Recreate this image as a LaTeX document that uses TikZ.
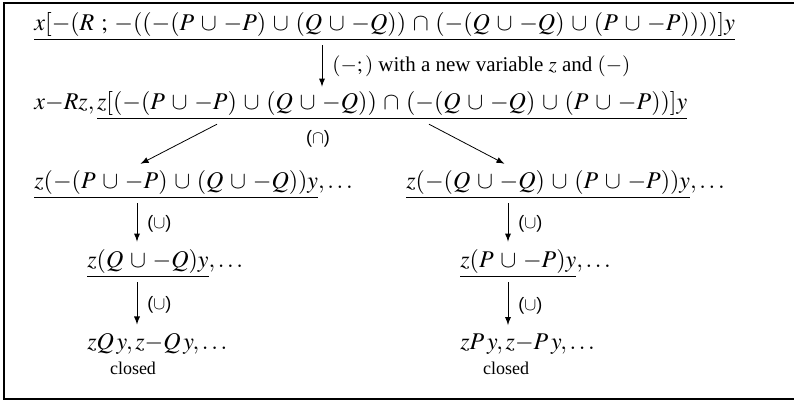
\documentclass[tikz,border=0pt]{standalone}
\usepackage{mathptmx}
\usepackage{fontspec}
\setmainfont{Liberation Serif}
\setsansfont{Liberation Sans}
\medmuskip=5mu plus 2mu minus 4mu

\begin{document}
\begin{tikzpicture}[
  x=0.5pt, y=-0.5pt,
  fml/.style={anchor=base west,inner sep=2pt,font=\fontsize{12}{14}\selectfont},
  rul/.style={font=\sffamily\small,inner sep=1pt},
  note/.style={font=\small,inner sep=1pt},
  >=latex
]
  \useasboundingbox (0,0) rectangle (794,402);

  % open frame (right side runs off the page)
  \draw[line width=0.8pt] (794,3) -- (4,3) -- (4,399) -- (794,399);

  % columns the arrows run along
  \coordinate (cA) at (322,0);
  \coordinate (cL) at (137,0);
  \coordinate (cR) at (508,0);
  \coordinate (dL) at (217,0);
  \coordinate (dR) at (429,0);

  %% ===== top of the tableau =====
  \node[fml] (top) at (30,30)
    {$\underline{x[-(R\mathbin{;}-((-(P\cup -P)\cup(Q\cup -Q))\cap(-(Q\cup -Q)\cup(P\cup -P))))]y}$};
  \node[fml] (mid) at (30,109)
    {$x{-}Rz, \underline{z[(-(P\cup -P)\cup(Q\cup -Q))\cap(-(Q\cup -Q)\cup(P\cup -P))]y}$};

  \draw[->] (top.south -| cA) -- node[note,right=4pt,font=\fontsize{10.5}{12}\selectfont]
    {$(-;)$ with a new variable $z$ and $(-)$} (mid.north -| cA);

  %% ===== left branch =====
  \node[fml] (bl) at (30,188)
    {$\underline{z(-(P\cup -P)\cup(Q\cup -Q))y}, \ldots$};
  \node[fml] (cl) at (83,267) {$\underline{z(Q\cup -Q)y}, \ldots$};
  \node[fml] (dl) at (83,349) {$zQ\,y, z{-}Q\,y, \ldots$};
  \node[note] (xl) at (133,368) {closed};

  %% ===== right branch =====
  \node[fml] (br) at (402,188)
    {$\underline{z(-(Q\cup -Q)\cup(P\cup -P))y}, \ldots$};
  \node[fml] (cr) at (456,267) {$\underline{z(P\cup -P)y}, \ldots$};
  \node[fml] (dr) at (456,349) {$zP\,y, z{-}P\,y, \ldots$};
  \node[note] (xr) at (506,368) {closed};

  % branching
  \draw[->,shorten >=2pt] (mid.south -| dL) -- (bl.north -| cL);
  \draw[->,shorten >=2pt] (mid.south -| dR) -- (br.north -| cR);
  \node[rul] (cap) at (318,139) {($\cap$)};

  % the two chains below
  \draw[->,shorten >=1.5pt] (bl.south -| cL) -- node[rul,right=4pt] {($\cup$)} (cl.north -| cL);
  \draw[->,shorten >=2pt] (cl.south -| cL) -- node[rul,right=4pt] {($\cup$)} (dl.north -| cL);
  \draw[->,shorten >=1.5pt] (br.south -| cR) -- node[rul,right=4pt] {($\cup$)} (cr.north -| cR);
  \draw[->,shorten >=2pt] (cr.south -| cR) -- node[rul,right=4pt] {($\cup$)} (dr.north -| cR);

\end{tikzpicture}
\end{document}
